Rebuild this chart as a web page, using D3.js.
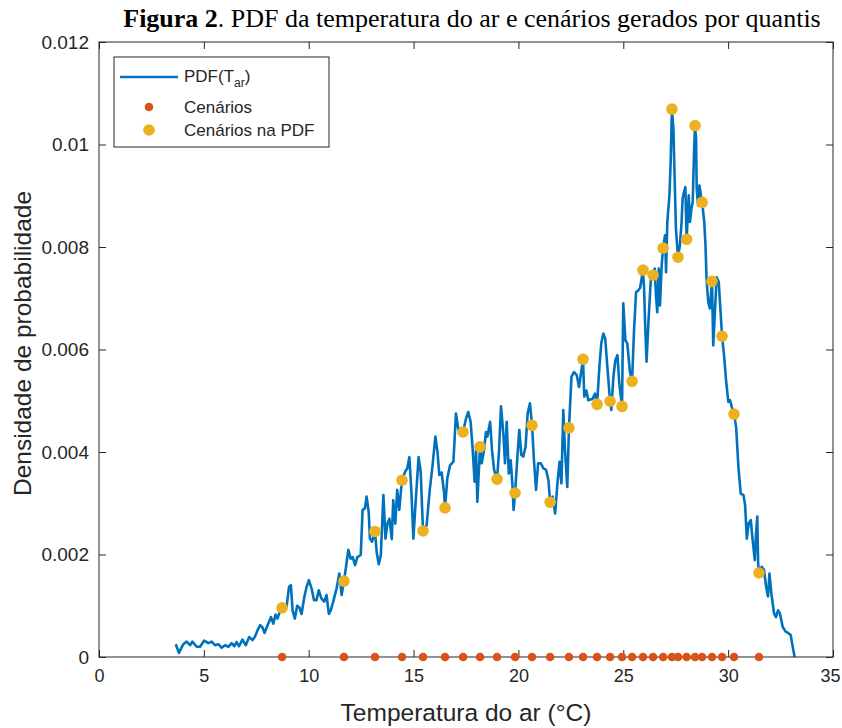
<!DOCTYPE html>
<html>
<head>
<meta charset="utf-8">
<script src="https://cdn.jsdelivr.net/npm/d3@7"></script>
<style>
  body { margin: 0; background: #fff; }
  svg text { font-family: "Liberation Sans", Arial, sans-serif; fill: #262626; }
</style>
</head>
<body>
<div id="chart"></div>
<script>
// temperature (°C) and PDF value
const tempX = [3.66, 3.81, 4.02, 4.18, 4.34, 4.45, 4.66, 4.82, 5.02, 5.21, 5.37, 5.53, 5.69, 5.85, 6.01, 6.17, 6.33, 6.45, 6.56, 6.68,
  6.84, 7.00, 7.16, 7.32, 7.44, 7.57, 7.68, 7.79, 7.89, 8.00, 8.10, 8.20, 8.31, 8.42, 8.51, 8.62, 8.73, 8.84, 8.95, 9.06,
  9.15, 9.23, 9.34, 9.45, 9.55, 9.66, 9.79, 9.90, 10.01, 10.14, 10.25, 10.37, 10.48, 10.61, 10.74, 10.85, 10.96, 11.05, 11.17, 11.33,
  11.46, 11.57, 11.68, 11.78, 11.89, 12.00, 12.10, 12.21, 12.32, 12.48, 12.57, 12.68, 12.76, 12.86, 12.92, 13.02, 13.16, 13.24, 13.34, 13.44,
  13.56, 13.66, 13.75, 13.85, 13.96, 14.03, 14.13, 14.22, 14.32, 14.39, 14.45, 14.59, 14.70, 14.80, 14.90, 14.99, 15.12, 15.24, 15.34, 15.45,
  15.62, 15.78, 15.90, 16.04, 16.14, 16.23, 16.34, 16.45, 16.50, 16.61, 16.74, 16.90, 17.02, 17.13, 17.24, 17.36, 17.50, 17.61, 17.72, 17.82,
  17.91, 17.98, 18.04, 18.17, 18.25, 18.36, 18.45, 18.52, 18.65, 18.74, 18.84, 18.98, 19.07, 19.17, 19.28, 19.36, 19.44, 19.54, 19.63, 19.71,
  19.77, 19.84, 19.95, 20.04, 20.14, 20.23, 20.34, 20.44, 20.55, 20.65, 20.74, 20.84, 20.94, 21.07, 21.19, 21.32, 21.43, 21.51, 21.63, 21.75,
  21.86, 21.96, 22.05, 22.14, 22.22, 22.33, 22.41, 22.53, 22.65, 22.78, 22.89, 23.08, 23.14, 23.24, 23.33, 23.54, 23.65, 23.75, 23.86, 23.95,
  24.05, 24.14, 24.24, 24.37, 24.43, 24.53, 24.62, 24.72, 24.81, 24.94, 25.00, 25.10, 25.19, 25.32, 25.42, 25.51, 25.61, 25.71, 25.80, 25.94,
  25.99, 26.05, 26.11, 26.20, 26.31, 26.42, 26.50, 26.56, 26.62, 26.69, 26.75, 26.83, 26.90, 26.99, 27.04, 27.10, 27.20, 27.26, 27.32, 27.39,
  27.45, 27.51, 27.58, 27.61, 27.70, 27.78, 27.83, 27.90, 27.96, 28.02, 28.12, 28.18, 28.25, 28.31, 28.38, 28.42, 28.47, 28.50, 28.57, 28.63,
  28.70, 28.76, 28.86, 28.92, 28.97, 29.05, 29.13, 29.23, 29.29, 29.37, 29.45, 29.55, 29.64, 29.71, 29.80, 29.90, 30.01, 30.09, 30.17, 30.28,
  30.38, 30.49, 30.60, 30.73, 30.81, 30.89, 30.98, 31.08, 31.17, 31.27, 31.33, 31.39, 31.43, 31.47, 31.60, 31.71, 31.81, 31.90, 31.97, 32.06,
  32.19, 32.28, 32.38, 32.47, 32.60, 32.73, 32.89, 32.98, 33.08, 33.17];
const pdfY = [0.00025, 0.00008, 0.00025, 0.00030, 0.00023, 0.00030, 0.00020, 0.00020, 0.00032, 0.00027, 0.00030, 0.00023, 0.00025, 0.00018, 0.00023, 0.00020, 0.00027, 0.00021, 0.00029, 0.00021,
  0.00034, 0.00023, 0.00039, 0.00033, 0.00040, 0.00053, 0.00062, 0.00058, 0.00047, 0.00058, 0.00068, 0.00078, 0.00065, 0.00083, 0.00075, 0.00088, 0.00096, 0.00091, 0.00100, 0.00137,
  0.00140, 0.00091, 0.00075, 0.00100, 0.00097, 0.00084, 0.00117, 0.00137, 0.00150, 0.00133, 0.00111, 0.00111, 0.00130, 0.00114, 0.00108, 0.00121, 0.00084, 0.00091, 0.00108, 0.00134,
  0.00163, 0.00121, 0.00148, 0.00176, 0.00209, 0.00192, 0.00195, 0.00179, 0.00195, 0.00199, 0.00287, 0.00290, 0.00313, 0.00283, 0.00231, 0.00225, 0.00245, 0.00205, 0.00181, 0.00199,
  0.00316, 0.00231, 0.00260, 0.00270, 0.00230, 0.00306, 0.00260, 0.00326, 0.00287, 0.00320, 0.00345, 0.00361, 0.00368, 0.00390, 0.00320, 0.00231, 0.00316, 0.00390, 0.00361, 0.00246,
  0.00257, 0.00329, 0.00372, 0.00430, 0.00400, 0.00355, 0.00360, 0.00322, 0.00291, 0.00349, 0.00374, 0.00381, 0.00475, 0.00446, 0.00433, 0.00439, 0.00465, 0.00478, 0.00459, 0.00404,
  0.00342, 0.00404, 0.00303, 0.00410, 0.00378, 0.00404, 0.00439, 0.00430, 0.00459, 0.00404, 0.00365, 0.00347, 0.00398, 0.00489, 0.00436, 0.00378, 0.00459, 0.00358, 0.00384, 0.00339,
  0.00287, 0.00320, 0.00390, 0.00443, 0.00394, 0.00391, 0.00410, 0.00475, 0.00495, 0.00452, 0.00384, 0.00326, 0.00378, 0.00378, 0.00368, 0.00365, 0.00345, 0.00302, 0.00313, 0.00280,
  0.00339, 0.00381, 0.00339, 0.00482, 0.00404, 0.00332, 0.00447, 0.00547, 0.00556, 0.00550, 0.00527, 0.00581, 0.00508, 0.00520, 0.00501, 0.00504, 0.00514, 0.00493, 0.00566, 0.00612,
  0.00631, 0.00621, 0.00566, 0.00499, 0.00482, 0.00547, 0.00579, 0.00589, 0.00534, 0.00489, 0.00690, 0.00618, 0.00612, 0.00556, 0.00538, 0.00635, 0.00712, 0.00715, 0.00720, 0.00755,
  0.00720, 0.00641, 0.00576, 0.00654, 0.00735, 0.00745, 0.00758, 0.00706, 0.00673, 0.00758, 0.00686, 0.00764, 0.00798, 0.00823, 0.00751, 0.00849, 0.00901, 0.00966, 0.01069, 0.01030,
  0.00934, 0.00836, 0.00797, 0.00780, 0.00804, 0.00849, 0.00895, 0.00908, 0.00917, 0.00815, 0.00901, 0.00849, 0.00875, 0.00888, 0.00992, 0.01037, 0.01011, 0.00914, 0.00881, 0.00920,
  0.00901, 0.00887, 0.00849, 0.00803, 0.00738, 0.00693, 0.00680, 0.00733, 0.00608, 0.00673, 0.00741, 0.00732, 0.00673, 0.00626, 0.00591, 0.00540, 0.00498, 0.00501, 0.00488, 0.00474,
  0.00449, 0.00371, 0.00319, 0.00316, 0.00296, 0.00231, 0.00261, 0.00267, 0.00228, 0.00189, 0.00241, 0.00274, 0.00182, 0.00164, 0.00176, 0.00170, 0.00137, 0.00118, 0.00163, 0.00124,
  0.00085, 0.00078, 0.00091, 0.00085, 0.00059, 0.00050, 0.00046, 0.00043, 0.00020, 0.00000];

// scenarios generated by quantiles and their PDF value
const scenX = [8.73, 11.68, 13.16, 14.45, 15.45, 16.50, 17.36, 18.17, 18.98, 19.84, 20.65, 21.51, 22.41, 23.08, 23.75,
  24.37, 24.94, 25.42, 25.94, 26.42, 26.90, 27.32, 27.61, 28.02, 28.42, 28.76, 29.23, 29.71, 30.28, 31.47];
const scenPdf = [0.00096, 0.00148, 0.00245, 0.00345, 0.00246, 0.00291, 0.00439, 0.00410, 0.00347, 0.00320, 0.00452, 0.00302, 0.00447, 0.00581, 0.00493,
  0.00499, 0.00489, 0.00538, 0.00755, 0.00745, 0.00798, 0.01069, 0.00780, 0.00815, 0.01037, 0.00887, 0.00733, 0.00626, 0.00474, 0.00164];

const xTicks = [0, 5, 10, 15, 20, 25, 30, 35];
const yTicks = [0, 0.002, 0.004, 0.006, 0.008, 0.01, 0.012];

const svgWidth = 842, svgHeight = 728;
const plotLeft = 99, plotRight = 833, plotTop = 42, plotBottom = 657;

const svg = d3.select('#chart').append('svg')
    .attr('width', svgWidth)
    .attr('height', svgHeight);

const x = d3.scaleLinear().domain([0, 35]).range([plotLeft, plotRight]);
const y = d3.scaleLinear().domain([0, 0.012]).range([plotBottom, plotTop]);

// title
const title = svg.append('text')
    .attr('x', 472)
    .attr('y', 27)
    .attr('text-anchor', 'middle')
    .style('font-family', '"Liberation Serif", "Times New Roman", serif')
    .style('font-size', '26px')
    .style('fill', '#000');
title.append('tspan').style('font-weight', 'bold').text('Figura 2');
title.append('tspan').text('. PDF da temperatura do ar e cenários gerados por quantis');

// axes, MATLAB style ticks pointing inwards
const tickLen = 7;
const gx = svg.append('g')
    .attr('transform', `translate(0,${plotBottom})`)
    .call(d3.axisBottom(x).tickValues(xTicks).tickSize(-tickLen).tickPadding(12).tickFormat(d3.format('d')));
svg.append('g')
    .attr('transform', `translate(0,${plotTop})`)
    .call(d3.axisTop(x).tickValues(xTicks).tickSize(-tickLen).tickFormat(''));
const gy = svg.append('g')
    .attr('transform', `translate(${plotLeft},0)`)
    .call(d3.axisLeft(y).tickValues(yTicks).tickSize(-tickLen).tickPadding(10).tickFormat(d => d === 0 ? '0' : String(+d.toFixed(3))));
svg.append('g')
    .attr('transform', `translate(${plotRight},0)`)
    .call(d3.axisRight(y).tickValues(yTicks).tickSize(-tickLen).tickFormat(''));

svg.selectAll('.domain').remove();
svg.selectAll('.tick line').attr('stroke', '#262626');
gx.selectAll('text').style('font-size', '18px').style('fill', '#262626');
// last x label sits at the window edge, nudge it in a little
gx.selectAll('.tick').filter(d => d === 35).select('text').attr('dx', -3);
gy.selectAll('text').style('font-size', '19px').style('fill', '#262626');

// PDF line
const pdfPoints = tempX.map((t, i) => [t, pdfY[i]]);
const line = d3.line()
    .x(d => x(d[0]))
    .y(d => y(d[1]));

svg.append('path')
    .datum(pdfPoints)
    .attr('fill', 'none')
    .attr('stroke', '#0072BD')
    .attr('stroke-width', 2.6)
    .attr('stroke-linejoin', 'round')
    .attr('d', line);

// box
svg.append('rect')
    .attr('x', plotLeft)
    .attr('y', plotTop)
    .attr('width', plotRight - plotLeft)
    .attr('height', plotBottom - plotTop)
    .attr('fill', 'none')
    .attr('stroke', '#262626')
    .attr('stroke-width', 1);

// scenarios on the x axis
svg.append('g').selectAll('circle')
    .data(scenX)
    .join('circle')
    .attr('cx', d => x(d))
    .attr('cy', y(0))
    .attr('r', 4.3)
    .attr('fill', '#D95319');

// scenarios on the pdf
svg.append('g').selectAll('circle')
    .data(scenX)
    .join('circle')
    .attr('cx', d => x(d))
    .attr('cy', (d, i) => y(scenPdf[i]))
    .attr('r', 5.8)
    .attr('fill', '#EDB120');

// axis labels
svg.append('text')
    .attr('x', (plotLeft + plotRight) / 2)
    .attr('y', 721)
    .attr('text-anchor', 'middle')
    .style('font-size', '24.5px')
    .text('Temperatura do ar (°C)');

svg.append('text')
    .attr('transform', `translate(31,${(plotTop + plotBottom) / 2 - 6}) rotate(-90)`)
    .attr('text-anchor', 'middle')
    .style('font-size', '24.5px')
    .text('Densidade de probabilidade');

// legend
const legend = svg.append('g');
legend.append('rect')
    .attr('x', 114).attr('y', 57)
    .attr('width', 215).attr('height', 90)
    .attr('fill', '#fff')
    .attr('stroke', '#262626')
    .attr('stroke-width', 1);
legend.append('line')
    .attr('x1', 120).attr('x2', 178)
    .attr('y1', 77).attr('y2', 77)
    .attr('stroke', '#0072BD')
    .attr('stroke-width', 2.6);
const lt = legend.append('text')
    .attr('x', 184).attr('y', 82)
    .style('font-size', '17px');
lt.append('tspan').text('PDF(T');
lt.append('tspan').attr('dy', 5).style('font-size', '12px').text('ar');
lt.append('tspan').attr('dy', -5).text(')');

legend.append('circle')
    .attr('cx', 149).attr('cy', 107).attr('r', 4.3)
    .attr('fill', '#D95319');
legend.append('text')
    .attr('x', 184).attr('y', 113)
    .style('font-size', '17px')
    .text('Cenários');

legend.append('circle')
    .attr('cx', 149).attr('cy', 130).attr('r', 5.8)
    .attr('fill', '#EDB120');
legend.append('text')
    .attr('x', 184).attr('y', 136)
    .style('font-size', '17px')
    .text('Cenários na PDF');
</script>
</body>
</html>
